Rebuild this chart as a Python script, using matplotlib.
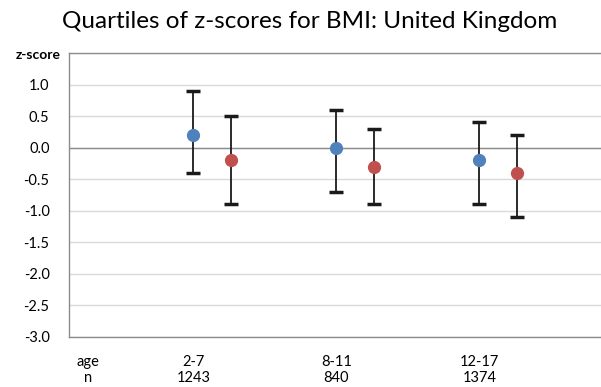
import matplotlib
matplotlib.use("Agg")
import matplotlib.pyplot as plt

plt.rcParams['font.family'] = ['Lato', 'DejaVu Sans']

age_groups = ["2-7", "8-11", "12-17"]
n_values = ["1243", "840", "1374"]
blue_median = [0.2, 0.0, -0.2]
blue_q1 = [-0.4, -0.7, -0.9]
blue_q3 = [0.9, 0.6, 0.4]
red_median = [-0.2, -0.3, -0.4]
red_q1 = [-0.9, -0.9, -1.1]
red_q3 = [0.5, 0.3, 0.2]
y_ticks = [1.0, 0.5, 0.0, -0.5, -1.0, -1.5, -2.0, -2.5, -3.0]

W, H = 601, 387
fig = plt.figure(figsize=(W / 100, H / 100), dpi=100)
ax = fig.add_axes([69 / W, (H - 337) / H, (W - 69) / W, (337 - 53) / H])

off = 0.13
xs = list(range(len(age_groups)))
bx = [x - off for x in xs]
rx = [x + off for x in xs]

for xpos, med, q1, q3, col in [(bx, blue_median, blue_q1, blue_q3, '#4f81bd'),
                                (rx, red_median, red_q1, red_q3, '#c0504d')]:
    lo = [m - a for m, a in zip(med, q1)]
    hi = [b - m for m, b in zip(med, q3)]
    ax.errorbar(xpos, med, yerr=[lo, hi], fmt='o', color=col, markersize=8.5,
                ecolor='#1a1a1a', elinewidth=1.3, capsize=5, capthick=2.5, zorder=3)

ax.set_xlim(-1.0, 2.72)
ax.set_ylim(-3.0, 1.5)
ax.set_yticks(y_ticks)
ax.set_yticklabels([f"{v:.1f}" for v in y_ticks], fontsize=10.5)
ax.set_xticks([])
ax.tick_params(axis='y', length=0, pad=14)
for v in y_ticks + [1.5]:
    ax.axhline(v, color='#d9d9d9', lw=1.0, zorder=0)
ax.axhline(0.0, color='#8c8c8c', lw=1.0, zorder=1)
for s in ['left', 'bottom', 'top']:
    ax.spines[s].set_color('#8c8c8c')
    ax.spines[s].set_linewidth(1.0)
ax.spines['right'].set_visible(False)

fig.text(310 / W, 1 - 21 / H, "Quartiles of z-scores for BMI: United Kingdom",
         ha='center', va='center', fontsize=17.5)
fig.text(38 / W, 1 - 55 / H, "z-score", ha='center', va='center', fontsize=10, fontweight='bold')

fig.text(88 / W, 1 - 362 / H, "age", ha='center', va='center', fontsize=10.5)
fig.text(88 / W, 1 - 378 / H, "n", ha='center', va='center', fontsize=10.5)
for x, a, n in zip(bx, age_groups, n_values):
    px = ax.transData.transform((x, 0))[0] / W
    fig.text(px, 1 - 362 / H, a, ha='center', va='center', fontsize=10.5)
    fig.text(px, 1 - 378 / H, n, ha='center', va='center', fontsize=10.5)

fig.savefig("out.png", dpi=100)
